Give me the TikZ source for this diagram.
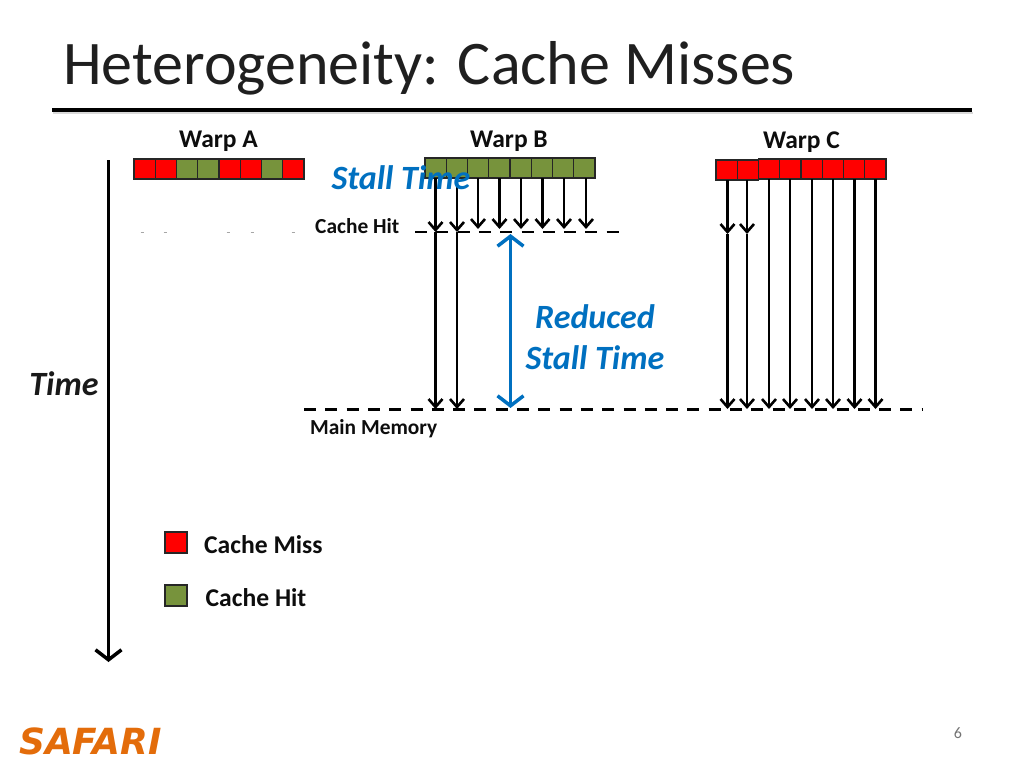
\documentclass[tikz,border=0pt]{standalone}
\usepackage{fontspec}
\setmainfont{Carlito}
\newfontfamily\logofont{DejaVu Sans}
\usepackage{tikz}
\usetikzlibrary{arrows.meta}
\definecolor{missred}{RGB}{255,0,0}
\definecolor{hitgreen}{RGB}{119,147,60}
\definecolor{stallblue}{RGB}{0,112,192}
\definecolor{safariorange}{RGB}{227,108,10}
\tikzset{>={Straight Barb[length=8pt,width=14pt,line width=2.6pt]}}
\tikzstyle{cell}=[draw=black!85,line width=1.2pt,minimum width=21.25pt,minimum height=20pt,inner sep=0pt,outer sep=0pt]
\tikzstyle{miss}=[cell,fill=missred]
\tikzstyle{hit}=[cell,fill=hitgreen]
\tikzstyle{label}=[font=\bfseries,inner sep=0pt,text=black!95]
\tikzstyle{access}=[->,line width=2.5pt,black]
\tikzstyle{level}=[line width=2.6pt,black,dash pattern=on 12pt off 9.3pt]
\begin{document}
\begin{tikzpicture}[x=1pt,y=-1pt]
  \useasboundingbox (0,0) rectangle (1024,768);

  % title
  \node[inner sep=0pt,anchor=west,font=\fontsize{62}{66}\selectfont,text=black!88] (title) at (63,68) {Heterogeneity: Cache Misses};
  \coordinate (ruleA) at (52,110);
  \coordinate (ruleB) at (972,110);
  \coordinate (ruleAs) at (53,113);
  \coordinate (ruleBs) at (973,113);
  \draw[line width=2pt,black!15] (ruleAs) -- (ruleBs);
  \draw[line width=4pt,black] (ruleA) -- (ruleB);

  % warp headers
  \node[label,font=\fontsize{25.5}{27}\bfseries\selectfont] (warpa) at (218.5,141) {Warp A};
  \node[label,font=\fontsize{25.5}{27}\bfseries\selectfont] (warpb) at (509,141) {Warp B};
  \node[label,font=\fontsize{25.5}{27}\bfseries\selectfont] (warpc) at (801.5,142) {Warp C};

  % levels
  \coordinate (hitL) at (415,232);
  \coordinate (hitR) at (619,232);
  \coordinate (memL) at (304,409.5);
  \coordinate (memR) at (922,409.5);
  \draw[level] (hitL) -- (hitR);
  \draw[level] (memL) -- (memR);
  \foreach \xx in {142,165,228,252,293}{
    \coordinate (fadeL\xx) at (\xx-1.5,232.5);
    \coordinate (fadeR\xx) at (\xx+1.5,232.5);
    \draw[line width=1pt,black!35] (fadeL\xx) -- (fadeR\xx);
  }

  % warp A
  \foreach \i/\kind in {0/miss,1/miss,2/hit,3/hit,4/miss,5/miss,6/hit,7/miss}{
    \node[\kind] (a\i) at (144.6+21.25*\i,169) {};
  }

  % warp B
  \foreach \i in {0,...,7}{
    \node[hit] (b\i) at (435.6+21.25*\i,168) {};
  }

  % warp C
  \foreach \i in {2,...,7}{
    \node[miss] (c\i) at (726.6+21.25*\i,169) {};
  }
  \foreach \i in {0,1}{
    \node[miss] (c\i) at (726.6+21.25*\i,170) {};
  }

  % accesses of warp B
  \foreach \i/\xx in {0/435.5,1/457}{
    \coordinate (bh\i) at (\xx,232);
    \coordinate (bm\i) at (\xx,409);
    \draw[access] (b\i.south -| bh\i) -- (bh\i);
    \draw[access] (bh\i) -- (bm\i);
  }
  \foreach \i/\xx in {2/478,3/499.5,4/521,5/542.5,6/564,7/586}{
    \coordinate (bh\i) at (\xx,229);
    \draw[access] (b\i.south -| bh\i) -- (bh\i);
  }

  % accesses of warp C
  \foreach \i/\xx in {0/727.5,1/747}{
    \coordinate (ch\i) at (\xx,234);
    \coordinate (cm\i) at (\xx,409);
    \draw[access] (c\i.south -| ch\i) -- (ch\i);
    \draw[access] (ch\i) -- (cm\i);
  }
  \foreach \i/\xx in {2/769,3/790,4/812,5/833,6/854.5,7/875.5}{
    \coordinate (cm\i) at (\xx,409);
    \draw[access] (c\i.south -| cm\i) -- (cm\i);
  }

  % stall time
  \coordinate (stallT) at (510.5,234);
  \coordinate (stallB) at (510.5,408);
  \draw[{Straight Barb[length=10pt,width=26pt,line width=3.5pt]}-{Straight Barb[length=10pt,width=26pt,line width=3.5pt]},line width=3.5pt,stallblue] (stallT) -- (stallB);
  \node[inner sep=0pt,text=stallblue,font=\fontsize{34}{36}\bfseries\itshape\selectfont] (stall) at (401,178) {Stall Time};
  \node[inner sep=0pt,text=stallblue,font=\fontsize{34}{41}\bfseries\itshape\selectfont,align=center] (reduced) at (595,337) {Reduced\\Stall Time};

  % level labels
  \node[label,font=\fontsize{21.4}{23}\bfseries\selectfont,anchor=west] (cachehit) at (315,226) {Cache Hit};
  \node[label,font=\fontsize{21.4}{23}\bfseries\selectfont,anchor=west] (mainmem) at (310,429) {Main Memory};

  % time axis
  \node[inner sep=0pt,font=\fontsize{34}{36}\bfseries\itshape\selectfont,text=black!90] (time) at (64,384) {Time};
  \coordinate (timeT) at (108.5,160);
  \coordinate (timeB) at (108.5,662);
  \draw[-{Straight Barb[length=10pt,width=26pt,line width=3.5pt]},line width=3.5pt,black] (timeT) -- (timeB);

  % legend
  \node[miss,minimum width=22pt,minimum height=21pt] (legmiss) at (176,542.5) {};
  \node[hit,minimum width=22pt,minimum height=21pt] (leghit) at (176,595.5) {};
  \node[label,font=\fontsize{25.6}{27}\bfseries\selectfont,anchor=west] (missl) at (204,545) {Cache Miss};
  \node[label,font=\fontsize{25.6}{27}\bfseries\selectfont,anchor=west] (hitl) at (205.5,598) {Cache Hit};

  % footer
  \node[inner sep=0pt,anchor=west,text=safariorange,font=\logofont\fontsize{36}{38}\bfseries\itshape\selectfont] (safari) at (19,741) {SAFARI};
  \node[inner sep=0pt,text=black!55,font=\fontsize{16}{18}\selectfont] (page) at (958,733) {6};
\end{tikzpicture}
\end{document}
